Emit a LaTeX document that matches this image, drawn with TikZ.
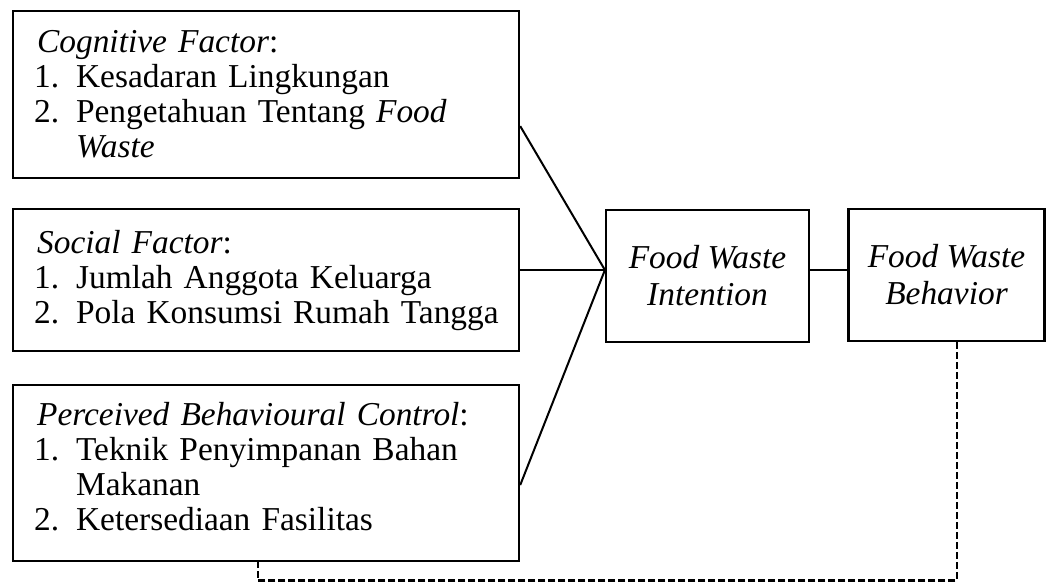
\documentclass[tikz,border=0pt]{standalone}
\usepackage{fontspec}
\setmainfont{Liberation Serif}
\usetikzlibrary{positioning}
\newcommand{\itm}[2]{\hspace*{10.5pt}\makebox[21pt][l]{#1}#2}
\newcommand{\cnt}{\hspace*{31.5pt}}
\newcommand{\hd}[1]{\hspace*{12pt}\textit{#1}:}
\tikzset{
  factor/.style={draw, line width=1.1pt, anchor=north west, inner xsep=0pt, inner ysep=0pt,
    text width=253pt, minimum width=253pt, align=left, font=\fontsize{16.7}{17.5}\selectfont},
  stage/.style={draw, line width=1.1pt, inner sep=0pt, minimum height=66pt, align=center,
    font=\fontsize{16.7}{18.5}\selectfont\itshape},
  link/.style={line width=1pt},
  feedback/.style={line width=1.3pt, dash pattern=on 3.5pt off 1.5pt}
}

\begin{document}
\begin{tikzpicture}[x=0.5pt, y=0.5pt]
\useasboundingbox (0,0) rectangle (1047,582);
\node[factor, minimum height=83.5pt] (cog) at (12,572) {\hd{Cognitive Factor}\\
\itm{1.}{Kesadaran Lingkungan}\\
\itm{2.}{Pengetahuan Tentang \textit{Food}}\\
\cnt\textit{Waste}};
\node[factor, minimum height=71pt] (soc) at (12,374) {\hd{Social Factor}\\
\itm{1.}{Jumlah Anggota Keluarga}\\
\itm{2.}{Pola Konsumsi Rumah Tangga}};
\node[factor, minimum height=88pt] (pbc) at (12,198) {\hd{Perceived Behavioural Control}\\
\itm{1.}{Teknik Penyimpanan Bahan}\\
\cnt Makanan\\
\itm{2.}{Ketersediaan Fasilitas}\\[-10.5pt]
\mbox{}};
\node[stage, minimum width=101.5pt] (int) at (707.5,306) {Food Waste\\Intention};
\node[stage, minimum width=98pt] (beh) at (946.5,307) {Food Waste\\Behavior};
\coordinate (j) at ([yshift=3pt]int.west);
\draw[link] ([yshift=-15.75pt]cog.east) -- (j);
\draw[link] (soc.east |- j) -- (j);
\draw[link] ([yshift=-6pt]pbc.east) -- (j);
\draw[link] (int.east |- j) -- (beh.west |- j);
\coordinate (c1) at (957,1.5);\coordinate (c2) at (258,1.5);
\draw[feedback] (beh.south -| c1) -- (c1) -- (c2) -- (pbc.south -| c2);
\end{tikzpicture}
\end{document}
